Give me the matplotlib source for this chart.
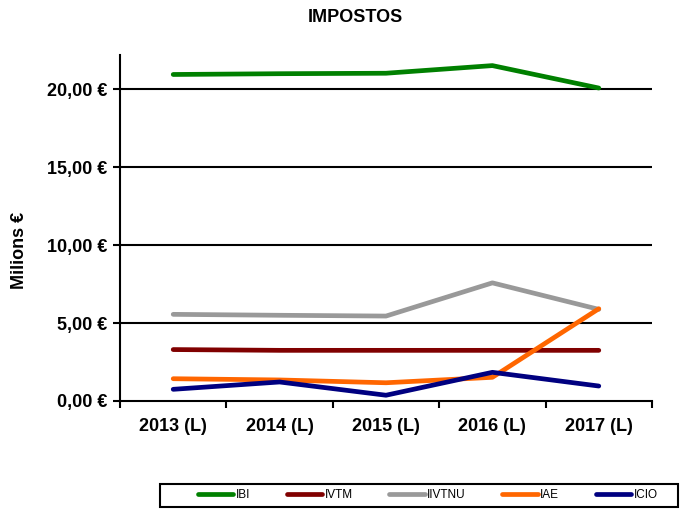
import matplotlib
matplotlib.use("Agg")
import matplotlib.pyplot as plt
from matplotlib.ticker import FuncFormatter, FixedLocator
from matplotlib.patches import Rectangle

plt.rcParams['font.family'] = ['Liberation Sans', 'DejaVu Sans']

categories = ["2013 (L)", "2014 (L)", "2015 (L)", "2016 (L)", "2017 (L)"]
ibi = [20.95, 21.0, 21.03, 21.52, 20.08]
ivtm = [3.3, 3.25, 3.25, 3.25, 3.25]
iivtnu = [5.56, 5.5, 5.45, 7.58, 5.88]
iae = [1.43, 1.35, 1.17, 1.52, 5.92]
icio = [0.75, 1.22, 0.37, 1.84, 0.96]

series = [("IBI", ibi, "#008000"), ("IVTM", ivtm, "#800000"),
          ("IIVTNU", iivtnu, "#999999"), ("IAE", iae, "#FF6600"),
          ("ICIO", icio, "#000080")]

W, H = 681, 509
fig = plt.figure(figsize=(W/100, H/100), dpi=100)
ax = fig.add_axes([120/W, 1-401/H, (652-120)/W, (401-55)/H])

x = list(range(len(categories)))
handles = []
for name, vals, col in series:
    h, = ax.plot(x, vals, color=col, lw=3.4, solid_capstyle='round', label=name)
    handles.append(h)

ax.set_xlim(-0.5, len(categories)-0.5)
ax.set_ylim(0, 22.2)
ax.set_yticks([0, 5, 10, 15, 20])
ax.yaxis.set_major_formatter(FuncFormatter(lambda v, p: f"{v:.2f}".replace('.', ',') + " €"))
for yv in [5, 10, 15, 20]:
    ax.axhline(yv, color='black', lw=1.5, zorder=0)

ax.set_xticks(x)
ax.set_xticklabels(categories)
ax.xaxis.set_minor_locator(FixedLocator([i - 0.5 for i in range(len(categories)+1)]))
ax.tick_params(axis='x', which='major', length=0, pad=12)
ax.tick_params(axis='x', which='minor', length=5, width=1.5, direction='out')
ax.tick_params(axis='y', length=5, width=1.5, direction='out', pad=4)
for lab in ax.get_xticklabels() + ax.get_yticklabels():
    lab.set_fontweight('bold')
    lab.set_fontsize(13)

for s in ['top', 'right']:
    ax.spines[s].set_visible(False)
for s in ['left', 'bottom']:
    ax.spines[s].set_linewidth(1.5)

ax.set_ylabel("Milions €", fontsize=13, fontweight='bold')
ax.yaxis.set_label_coords((28-120)/532, (401-250)/346)
fig.text(355/W, 1-17/H, "IMPOSTOS", ha='center', va='center', fontsize=13, fontweight='bold')

# legend box
fig.patches.append(Rectangle((160/W, 1-507/H), (678-160)/W, (507-484)/H,
                             transform=fig.transFigure, fill=False,
                             edgecolor='black', lw=1.5))
leg = fig.legend(handles=handles, loc='center left', ncol=5,
                 bbox_to_anchor=(198/W, 1-495.5/H), fontsize=8.5,
                 frameon=False, handlelength=3.0, handletextpad=0.2,
                 columnspacing=3.1, borderpad=0.0, borderaxespad=0.0)

fig.savefig("out.png", dpi=100)
